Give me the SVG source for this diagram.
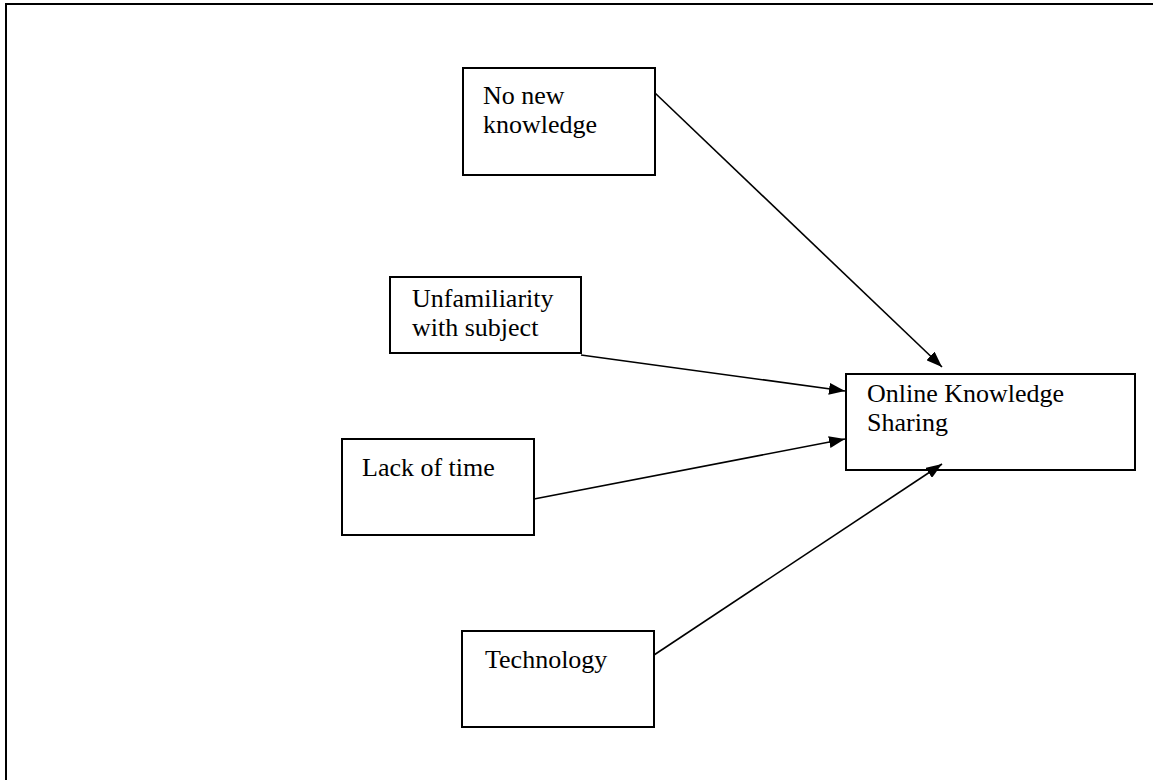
<svg xmlns="http://www.w3.org/2000/svg" width="1153" height="780" viewBox="0 0 1153 780">
<style>
.box{fill:#fff;stroke:#000;stroke-width:2}
.lbl{font-family:"Liberation Serif",serif;font-size:26px;fill:#000}
.con line{stroke:#000;stroke-width:1.6}
</style>
<defs>
<marker id="ah" markerWidth="16" markerHeight="12" refX="16" refY="6" orient="auto" markerUnits="userSpaceOnUse" viewBox="0 0 16 12">
<path d="M0,0 L16,6 L0,12 Z" fill="#000"/>
</marker>
</defs>
<rect width="1153" height="780" fill="#fff"/>
<path d="M6,780 V4 H1153" fill="none" stroke="#000" stroke-width="2"/>
<g id="n1"><rect class="box" x="463" y="68" width="192" height="107"/><text class="lbl" x="483" y="104">No new</text><text class="lbl" x="483" y="133">knowledge</text></g>
<g id="n2"><rect class="box" x="390" y="277" width="191" height="76"/><text class="lbl" x="412" y="307">Unfamiliarity</text><text class="lbl" x="412" y="336">with subject</text></g>
<g id="n3"><rect class="box" x="342" y="439" width="192" height="96"/><text class="lbl" x="362" y="476">Lack of time</text></g>
<g id="n4"><rect class="box" x="462" y="631" width="192" height="96"/><text class="lbl" x="485" y="668">Technology</text></g>
<g id="n5"><rect class="box" x="846" y="374" width="289" height="96"/><text class="lbl" x="867" y="402">Online Knowledge</text><text class="lbl" x="867" y="431">Sharing</text></g>
<g id="connectors" class="con">
<line x1="655" y1="93" x2="942" y2="367" marker-end="url(#ah)"/>
<line x1="581" y1="355" x2="845" y2="391" marker-end="url(#ah)"/>
<line x1="534" y1="499" x2="845" y2="439" marker-end="url(#ah)"/>
<line x1="654" y1="655" x2="942" y2="464" marker-end="url(#ah)"/>
</g>
</svg>
